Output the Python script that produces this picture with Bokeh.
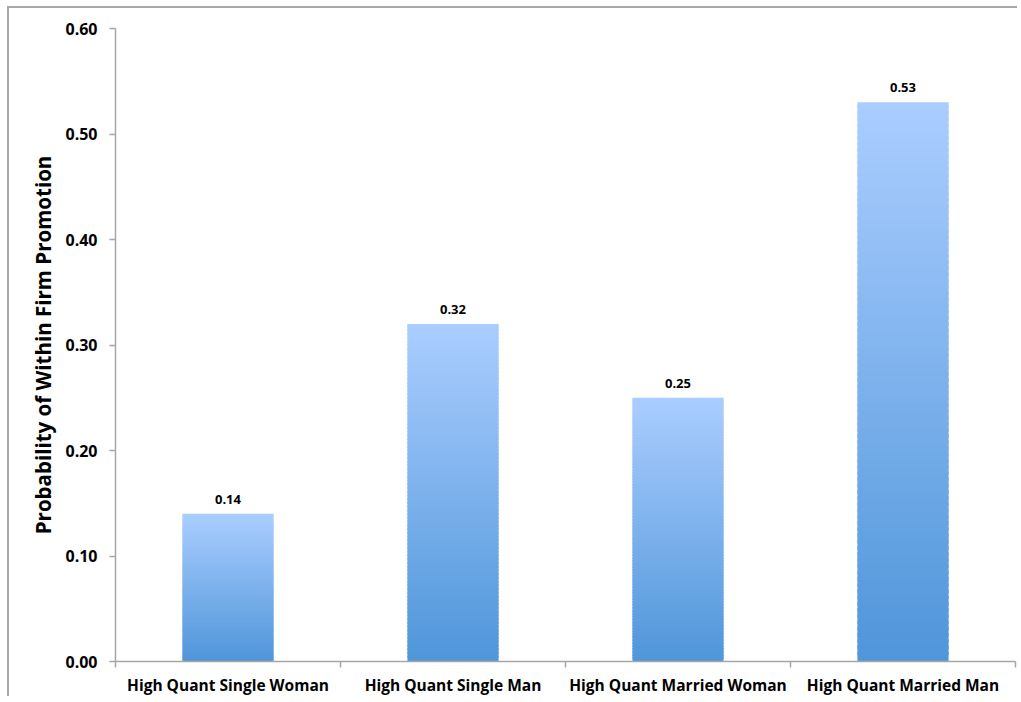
from bokeh.plotting import figure
from bokeh.models import (Range1d, LinearAxis, FixedTicker, NumeralTickFormatter,
                          ColumnDataSource, LabelSet)
from bokeh.core.properties import value
from bokeh.embed import file_html
from bokeh.resources import INLINE

categories = ["High Quant Single Woman", "High Quant Single Man",
              "High Quant Married Woman", "High Quant Married Man"]
values = [0.14, 0.32, 0.25, 0.53]
value_labels = ["0.14", "0.32", "0.25", "0.53"]
y_ticks = [0.0, 0.1, 0.2, 0.3, 0.4, 0.5, 0.6]
y_title = "Probability of Within Firm Promotion"

FONT = "Open Sans"
AXIS_GRAY = "#a6a6a6"
TOP_RGB = (170, 205, 255)
BOT_RGB = (80, 150, 218)
N_SLICES = 90
BAR_W = 0.405

p = figure(width=1010, height=690, output_backend="svg", toolbar_location=None,
           x_range=Range1d(0, len(categories)), y_range=Range1d(0, 0.6),
           x_axis_type=None, y_axis_type=None,
           min_border_left=106, min_border_right=4, min_border_top=20, min_border_bottom=37)
p.styles = {"margin-left": "7px", "margin-top": "6px",
            "border-left": "2px solid #a8a8a8", "border-top": "2px solid #a8a8a8"}
p.outline_line_color = None
p.xgrid.visible = False
p.ygrid.visible = False
p.background_fill_color = "white"
p.border_fill_color = "white"

# gradient bars built as stacked, slightly overlapping slices
lefts, rights, bottoms, tops, colors = [], [], [], [], []
for i, v in enumerate(values):
    for k in range(N_SLICES):
        t = k / (N_SLICES - 1)
        r = round(BOT_RGB[0] + (TOP_RGB[0] - BOT_RGB[0]) * t)
        g = round(BOT_RGB[1] + (TOP_RGB[1] - BOT_RGB[1]) * t)
        b = round(BOT_RGB[2] + (TOP_RGB[2] - BOT_RGB[2]) * t)
        lefts.append(i + 0.5 - BAR_W / 2)
        rights.append(i + 0.5 + BAR_W / 2)
        bottoms.append(v * k / N_SLICES)
        tops.append(v * min(k + 1.6, N_SLICES) / N_SLICES)
        colors.append("#%02x%02x%02x" % (r, g, b))
p.quad(left=lefts, right=rights, bottom=bottoms, top=tops,
       fill_color=colors, line_color=None)

# value labels
src = ColumnDataSource(dict(x=[i + 0.5 for i in range(len(values))], y=values, t=value_labels))
p.add_layout(LabelSet(x="x", y="y", text="t", source=src, text_align="center",
                      text_baseline="bottom", y_offset=10, text_font=value(FONT),
                      text_font_style="bold", text_font_size="13px", text_color="black"))

# y axis
yax = LinearAxis(ticker=FixedTicker(ticks=y_ticks, minor_ticks=[]),
                 formatter=NumeralTickFormatter(format="0.00"))
yax.axis_line_color = AXIS_GRAY
yax.axis_line_width = 1.5
yax.major_tick_line_color = AXIS_GRAY
yax.major_tick_line_width = 1.5
yax.major_tick_out = 6
yax.major_tick_in = 0
yax.major_label_standoff = 12
yax.major_label_text_font = FONT
yax.major_label_text_font_style = "bold"
yax.major_label_text_font_size = "16px"
yax.major_label_text_color = "black"
yax.axis_label = y_title
yax.axis_label_text_font = FONT
yax.axis_label_text_font_style = "bold"
yax.axis_label_text_font_size = "20.5px"
yax.axis_label_text_color = "black"
yax.axis_label_standoff = 5
p.add_layout(yax, "left")

# x axis: labels at category centres, ticks at category boundaries
xax = LinearAxis(ticker=FixedTicker(ticks=[i + 0.5 for i in range(len(categories))],
                                    minor_ticks=list(range(len(categories) + 1))))
xax.major_label_overrides = {i + 0.5: c for i, c in enumerate(categories)}
xax.axis_line_color = AXIS_GRAY
xax.axis_line_width = 1.5
xax.major_tick_line_color = None
xax.minor_tick_line_color = AXIS_GRAY
xax.minor_tick_line_width = 1.5
xax.minor_tick_out = 6
xax.minor_tick_in = 0
xax.major_label_standoff = 6
xax.major_label_text_font = FONT
xax.major_label_text_font_style = "bold"
xax.major_label_text_font_size = "15.5px"
xax.major_label_text_color = "black"
p.add_layout(xax, "below")

open("out.html", "w").write(file_html(p, INLINE))
